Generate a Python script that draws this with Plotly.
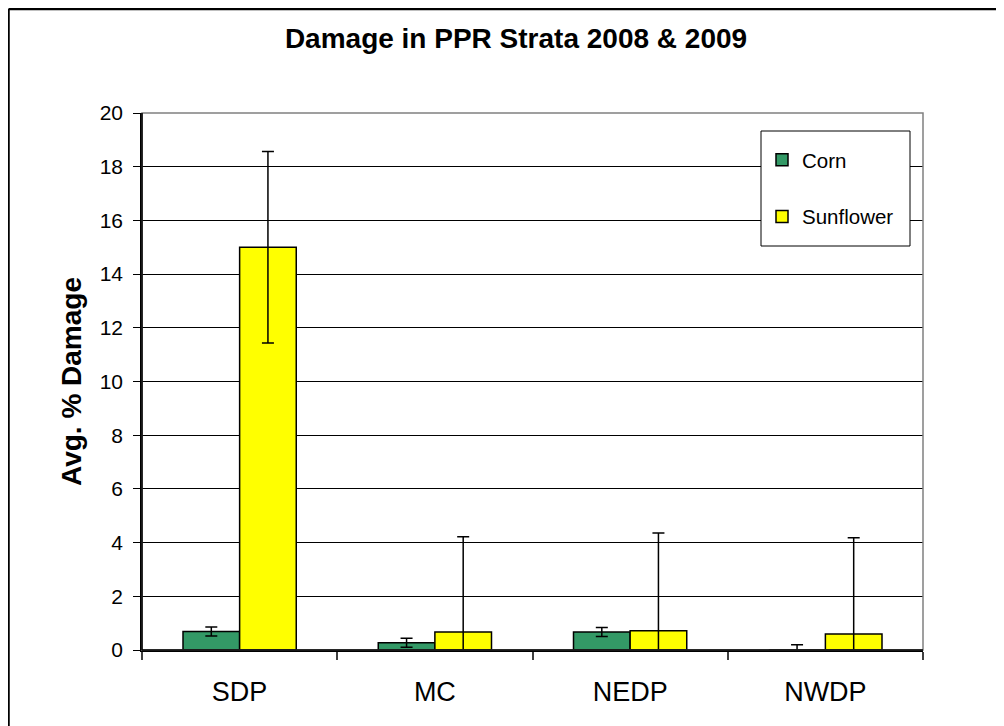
import plotly.graph_objects as go

categories = ["SDP", "MC", "NEDP", "NWDP"]
corn = [0.69, 0.27, 0.67, 0.0]
corn_err = [0.17, 0.17, 0.17, 0.2]
sunflower = [15.0, 0.67, 0.72, 0.6]
sunflower_err = [3.57, 3.55, 3.64, 3.58]
y_ticks = [0, 2, 4, 6, 8, 10, 12, 14, 16, 18, 20]

FONT = "Liberation Sans, Arial, sans-serif"

fig = go.Figure()
fig.add_trace(go.Bar(
    name="Corn", x=categories, y=corn,
    marker=dict(color="#339966", line=dict(color="black", width=1.5)),
    error_y=dict(type="data", array=corn_err, visible=True, color="black", thickness=1.5, width=6),
    legendgroup="a",
))
fig.add_trace(go.Bar(
    name="Sunflower", x=categories, y=sunflower,
    marker=dict(color="#FFFF00", line=dict(color="black", width=1.5)),
    error_y=dict(type="data", array=sunflower_err, visible=True, color="black", thickness=1.5, width=6),
    legendgroup="b",
))

# page has an 8px body margin; figure coordinates = page - 8
W, H = 996, 718
L, T = 134, 105
PR, PB = 915, 642
R, B = W - PR, H - PB
pw, ph = PR - L, PB - T

def px(x):
    return (x - L) / pw

def py(y):
    return (PB - y) / ph

fig.update_layout(
    width=W, height=H,
    margin=dict(l=L, r=R, t=T, b=B, autoexpand=False),
    paper_bgcolor="white", plot_bgcolor="white",
    barmode="group", bargap=0.42, bargroupgap=0,
    font=dict(family=FONT, color="black"),
    title=dict(text="<b>Damage in PPR Strata 2008 & 2009</b>", font=dict(size=28, family=FONT),
               x=508 / W, xref="container", xanchor="center", y=1 - 30 / H, yref="container", yanchor="middle"),
    legend=dict(x=px(754), y=py(132), xanchor="left", yanchor="top",
                bgcolor="rgba(0,0,0,0)", borderwidth=0,
                font=dict(size=20.5, family=FONT), tracegroupgap=27, traceorder="grouped"),
    xaxis=dict(showline=True, linecolor="black", linewidth=1.5, ticks="outside", tickson="boundaries",
               ticklen=8, tickcolor="#404040", tickwidth=1.5, tickfont=dict(size=27, family=FONT),
               showgrid=False, ticklabelstandoff=17),
    yaxis=dict(range=[0, 20], tickvals=y_ticks, showline=True, linecolor="black", linewidth=1.5,
               ticks="outside", ticklen=7, tickcolor="black", tickfont=dict(size=21, family=FONT),
               showgrid=True, gridcolor="black", gridwidth=1, zeroline=False, ticklabelstandoff=6,
               title=dict(text="<b>Avg. % Damage</b>", font=dict(size=28, family=FONT), standoff=10)),
    shapes=[
        dict(type="rect", xref="paper", yref="paper", x0=0, x1=1, y0=0, y1=1,
             line=dict(color="#808080", width=1.5), layer="above"),
        dict(type="line", xref="paper", yref="paper", x0=0, x1=0, y0=0, y1=1,
             line=dict(color="black", width=1.5), layer="above"),
        dict(type="line", xref="paper", yref="paper", x0=0, x1=1, y0=0, y1=0,
             line=dict(color="black", width=1.5), layer="above"),
        dict(type="rect", xref="paper", yref="paper",
             x0=px(753), x1=px(902), y0=py(238), y1=py(123),
             fillcolor="white", line=dict(color="black", width=1), layer="above"),
        # outer chart frame: left and top edges only (right and bottom run off the page)
        dict(type="line", xref="paper", yref="paper",
             x0=px(0.5), x1=px(W), y0=py(1), y1=py(1),
             line=dict(color="black", width=2.5), layer="above"),
        dict(type="line", xref="paper", yref="paper",
             x0=px(0.5), x1=px(0.5), y0=py(1), y1=py(H),
             line=dict(color="black", width=2.5), layer="above"),
    ],
)

fig.write_html("out.html")
